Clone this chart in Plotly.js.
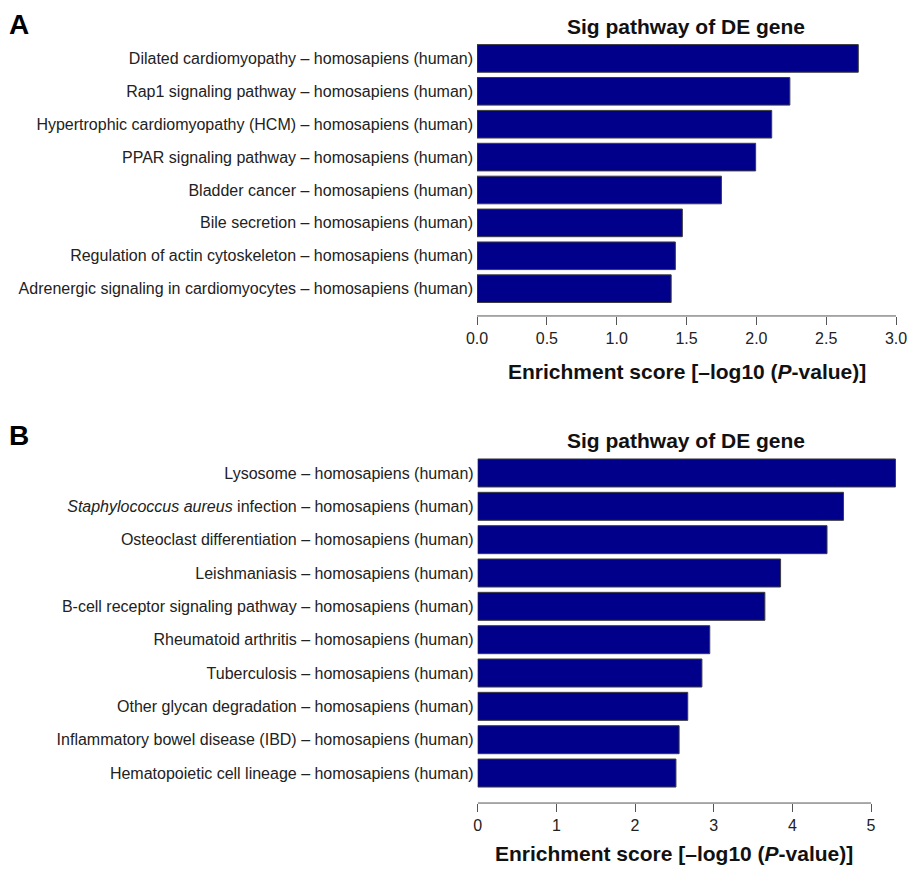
<!DOCTYPE html>
<html>
<head>
<meta charset="utf-8">
<script src="https://cdn.plot.ly/plotly-3.0.1.min.js"></script>
<style>html,body{margin:0;padding:0;background:#fff;}#chart{width:909px;height:869px;}</style>
</head>
<body>
<div id="chart"></div>
<script>
var pathwaysA = [
  "Dilated cardiomyopathy – homosapiens (human)",
  "Rap1 signaling pathway – homosapiens (human)",
  "Hypertrophic cardiomyopathy (HCM) – homosapiens (human)",
  "PPAR signaling pathway – homosapiens (human)",
  "Bladder cancer – homosapiens (human)",
  "Bile secretion – homosapiens (human)",
  "Regulation of actin cytoskeleton – homosapiens (human)",
  "Adrenergic signaling in cardiomyocytes – homosapiens (human)"
];
var scoresA = [2.73, 2.24, 2.11, 1.995, 1.75, 1.47, 1.42, 1.39];

var pathwaysB = [
  "Lysosome – homosapiens (human)",
  "<i>Staphylococcus aureus</i> infection – homosapiens (human)",
  "Osteoclast differentiation – homosapiens (human)",
  "Leishmaniasis – homosapiens (human)",
  "B-cell receptor signaling pathway – homosapiens (human)",
  "Rheumatoid arthritis – homosapiens (human)",
  "Tuberculosis – homosapiens (human)",
  "Other glycan degradation – homosapiens (human)",
  "Inflammatory bowel disease (IBD) – homosapiens (human)",
  "Hematopoietic cell lineage – homosapiens (human)"
];
var scoresB = [5.31, 4.65, 4.44, 3.85, 3.65, 2.95, 2.85, 2.67, 2.56, 2.52];

var tickValsA = [0, 0.5, 1, 1.5, 2, 2.5, 3];
var tickTextA = ["0.0", "0.5", "1.0", "1.5", "2.0", "2.5", "3.0"];
var tickValsB = [0, 1, 2, 3, 4, 5];
var tickTextB = ["0", "1", "2", "3", "4", "5"];

var panelTitle = "Sig pathway of DE gene";
var xTitle = "Enrichment score [–log10 (<i>P</i>-value)]";

var FONT = "Liberation Sans, Arial, Helvetica, sans-serif";
var barColor = "#00008B";
var edgeColor = "#3c3c3c";

var traces = [
  {type: "bar", orientation: "h", x: scoresA, y: pathwaysA, xaxis: "x", yaxis: "y",
   marker: {color: barColor, line: {color: edgeColor, width: 1}}, hoverinfo: "skip"},
  {type: "bar", orientation: "h", x: scoresB, y: pathwaysB, xaxis: "x2", yaxis: "y2",
   marker: {color: barColor, line: {color: edgeColor, width: 1}}, hoverinfo: "skip"}
];

function xaxisCfg(vals, text, range, domain, anchor) {
  return {
    domain: domain, range: range, anchor: anchor,
    tickmode: "array", tickvals: vals, ticktext: text,
    ticks: "outside", ticklen: 8, tickwidth: 1, tickcolor: "#555",
    showline: false, showgrid: false, zeroline: false,
    tickfont: {family: FONT, size: 16, color: "#222"}, fixedrange: true
  };
}
function yaxisCfg(cats, range, domain, anchor) {
  return {
    domain: domain, range: range, anchor: anchor, type: "category",
    categoryorder: "array", categoryarray: cats,
    ticks: "", showline: false, showgrid: false, zeroline: false,
    ticklabelstandoff: 3,
    tickfont: {family: FONT, size: 16, color: "#222"}, fixedrange: true
  };
}

var layout = {
  width: 909, height: 869,
  margin: {l: 0, r: 0, t: 0, b: 0},
  paper_bgcolor: "#fff", plot_bgcolor: "#fff",
  showlegend: false, bargap: 0.16,
  font: {family: FONT},
  xaxis: xaxisCfg(tickValsA, tickTextA, [0, 3], [0.5248, 0.9857], "y"),
  yaxis: yaxisCfg(pathwaysA, [pathwaysA.length - 0.17, -0.5], [0.6364, 0.9517], "x"),
  xaxis2: xaxisCfg(tickValsB, tickTextB, [0, 5.355], [0.5255, 0.989], "y2"),
  yaxis2: yaxisCfg(pathwaysB, [pathwaysB.length - 0.1, -0.5], [0.0759, 0.4749], "x2"),
  shapes: [
    {type: "line", xref: "x", yref: "y domain", x0: tickValsA[0], x1: tickValsA[tickValsA.length - 1], y0: 0, y1: 0,
     line: {color: "#555", width: 1}},
    {type: "line", xref: "x2", yref: "y2 domain", x0: tickValsB[0], x1: tickValsB[tickValsB.length - 1], y0: 0, y1: 0,
     line: {color: "#555", width: 1}}
  ],
  annotations: [
    {text: "<b>A</b>", xref: "paper", yref: "paper", x: 0.008, y: 1 - 24 / 869, xanchor: "left", yanchor: "middle",
     showarrow: false, font: {family: FONT, size: 28, color: "#000"}},
    {text: "<b>B</b>", xref: "paper", yref: "paper", x: 0.008, y: 1 - 435 / 869, xanchor: "left", yanchor: "middle",
     showarrow: false, font: {family: FONT, size: 28, color: "#000"}},
    {text: "<b>" + panelTitle + "</b>", xref: "paper", yref: "paper", x: 686 / 909, y: 1 - 26 / 869, xanchor: "center", yanchor: "middle",
     showarrow: false, font: {family: FONT, size: 21, color: "#111"}},
    {text: "<b>" + panelTitle + "</b>", xref: "paper", yref: "paper", x: 686 / 909, y: 1 - 440 / 869, xanchor: "center", yanchor: "middle",
     showarrow: false, font: {family: FONT, size: 21, color: "#111"}},
    {text: "<b>" + xTitle + "</b>", xref: "x", yref: "paper", x: 1.5, y: 1 - 372 / 869, xanchor: "center", yanchor: "middle",
     showarrow: false, font: {family: FONT, size: 21, color: "#111"}},
    {text: "<b>" + xTitle + "</b>", xref: "x2", yref: "paper", x: 2.5, y: 1 - 853 / 869, xanchor: "center", yanchor: "middle",
     showarrow: false, font: {family: FONT, size: 21, color: "#111"}}
  ]
};

Plotly.newPlot("chart", traces, layout, {displayModeBar: false, staticPlot: true});
</script>
</body>
</html>
